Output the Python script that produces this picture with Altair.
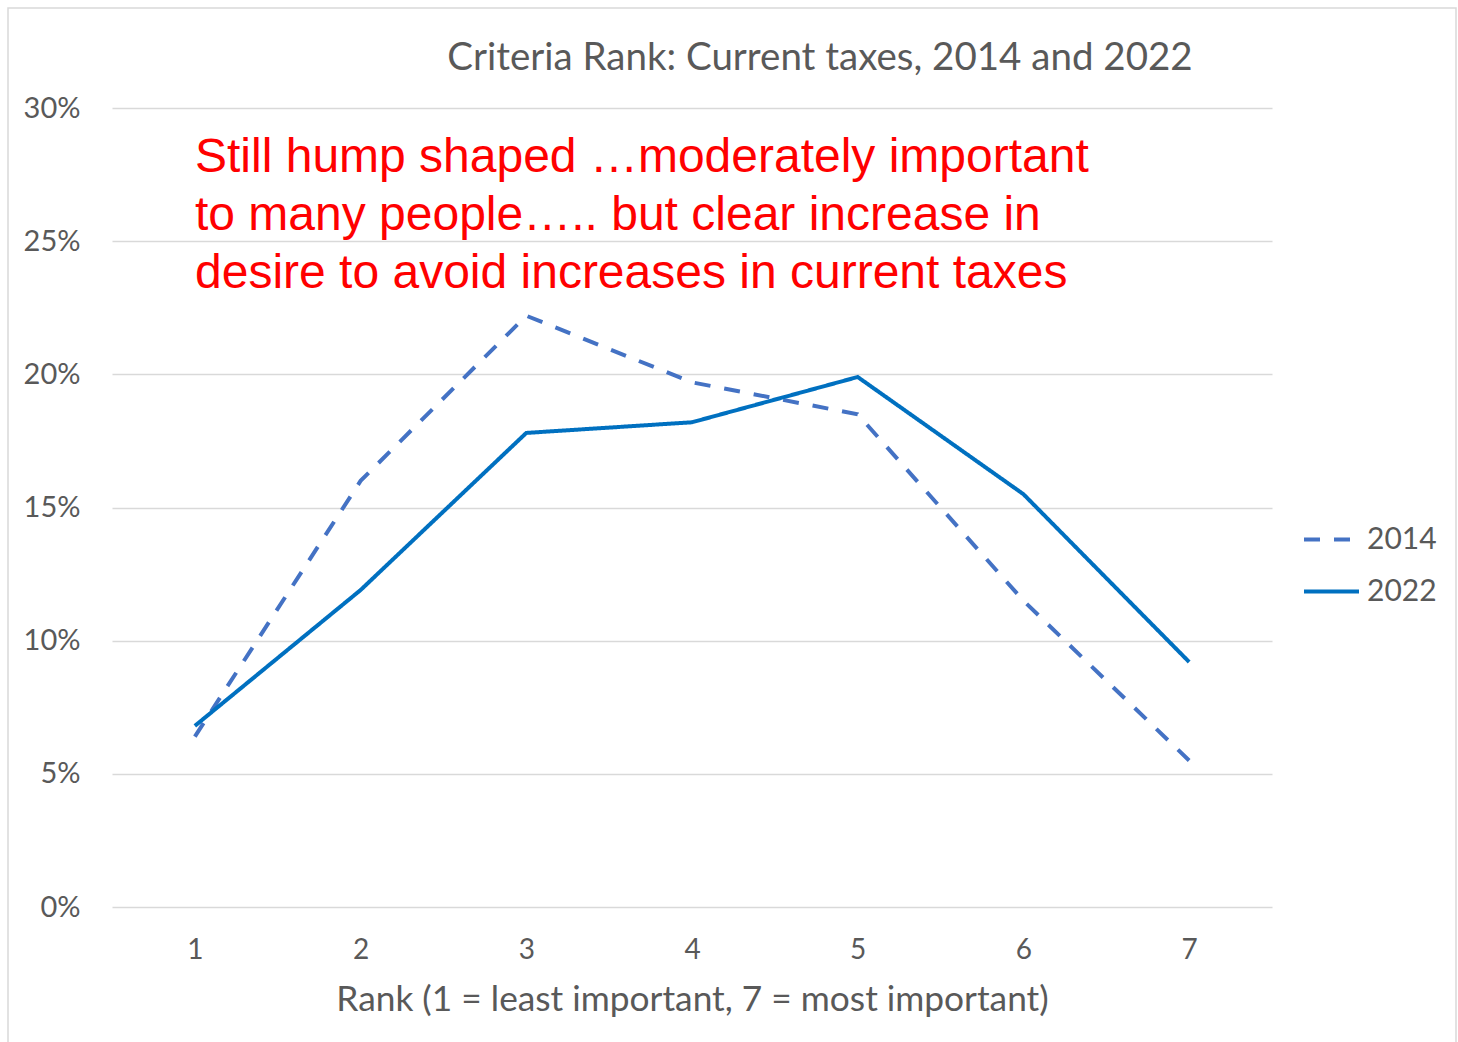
import altair as alt
import pandas as pd

ranks = [1, 2, 3, 4, 5, 6, 7]
series_2014 = [0.064, 0.160, 0.222, 0.197, 0.185, 0.115, 0.055]
series_2022 = [0.068, 0.119, 0.178, 0.182, 0.199, 0.155, 0.092]
series_names = ["2014", "2022"]
y_ticks = [0, 0.05, 0.10, 0.15, 0.20, 0.25, 0.30]

title_text = "Criteria Rank: Current taxes, 2014 and 2022"
x_title = "Rank (1 = least important, 7 = most important)"
note_lines = [
    "Still hump shaped \u2026moderately important",
    "to many people\u2026.. but clear increase in",
    "desire to avoid increases in current taxes",
]

rows = []
for r, v in zip(ranks, series_2014):
    rows.append({"rank": str(r), "value": v, "series": "2014"})
for r, v in zip(ranks, series_2022):
    rows.append({"rank": str(r), "value": v, "series": "2022"})
df = pd.DataFrame(rows)

W, H = 1160, 799
FONT = "Lato"
GREY = "#595959"

legend_cfg = dict(title=None, orient="none", legendX=1190, legendY=402,
                  symbolType="stroke", symbolSize=3025, symbolStrokeWidth=4,
                  labelFontSize=30, labelColor=GREY, labelFont=FONT,
                  rowPadding=7, labelOffset=6)

lines = alt.Chart(df).mark_line(strokeWidth=4, strokeCap="butt", strokeJoin="miter").encode(
    x=alt.X("rank:N", sort=[str(r) for r in ranks],
            scale=alt.Scale(paddingInner=0, paddingOuter=0),
            axis=alt.Axis(title=x_title, labelAngle=0, labelFontSize=28, labelColor=GREY,
                          labelFont=FONT, titleFont=FONT, titleFontSize=35.3, titleColor=GREY,
                          titleFontWeight="normal", domain=False, ticks=False,
                          labelPadding=29, titlePadding=18)),
    y=alt.Y("value:Q", scale=alt.Scale(domain=[0, 0.3]),
            axis=alt.Axis(values=y_ticks, format=".0%", title=None, labelFontSize=29,
                          labelColor=GREY, labelFont=FONT, domain=False, ticks=False,
                          labelPadding=32, gridColor="#D9D9D9", gridWidth=1.3)),
    color=alt.Color("series:N", scale=alt.Scale(domain=series_names, range=["#4472C4", "#0070C0"]),
                    legend=alt.Legend(**legend_cfg)),
    strokeDash=alt.StrokeDash("series:N", scale=alt.Scale(domain=series_names, range=[[16, 14], [1, 0]]),
                              legend=alt.Legend(**legend_cfg)),
)

title = alt.Chart(pd.DataFrame({"t": [title_text]})).mark_text(
    font=FONT, fontSize=38.5, color=GREY, align="center", baseline="middle"
).encode(text="t:N", x=alt.value(708), y=alt.value(-50))

note_layers = []
for i, line in enumerate(note_lines):
    note_layers.append(
        alt.Chart(pd.DataFrame({"t": [line]})).mark_text(
            font="Liberation Sans", fontSize=48, color="#FF0000", align="left", baseline="middle"
        ).encode(text="t:N", x=alt.value(83), y=alt.value(50 + 58 * i))
    )

frame = alt.Chart(pd.DataFrame({"a": [0]})).mark_rect(
    fill=None, stroke="#D9D9D9", strokeWidth=1.5, clip=False
).encode(x=alt.value(-104), x2=alt.value(1344), y=alt.value(-100), y2=alt.value(960))

chart = alt.layer(frame, lines, title, *note_layers).properties(
    width=W, height=H,
    autosize=alt.AutoSizeParams(type="none"),
    padding={"left": 112, "top": 108, "right": 186, "bottom": 135},
).configure_view(stroke=None)

chart.save("out.html", embed_options={"renderer": "svg", "actions": False})
